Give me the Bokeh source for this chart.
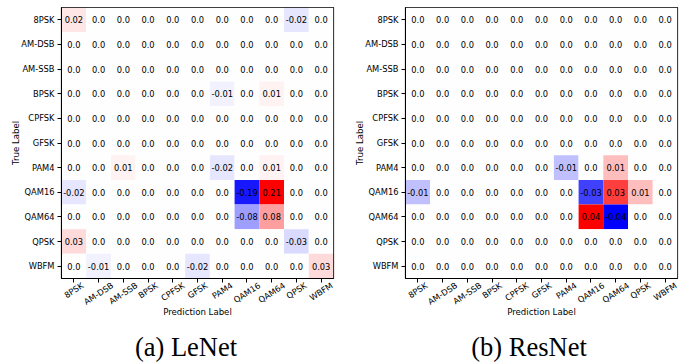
import math
from bokeh.plotting import figure
from bokeh.models import (ColumnDataSource, LinearColorMapper, Range1d, Div,
                          FixedTicker, LinearAxis, CustomJSTickFormatter)
from bokeh.layouts import row, column
from bokeh.transform import transform
from bokeh.core.properties import value
from bokeh.embed import file_html
from bokeh.resources import INLINE

labels = ["8PSK", "AM-DSB", "AM-SSB", "BPSK", "CPFSK", "GFSK", "PAM4",
          "QAM16", "QAM64", "QPSK", "WBFM"]

lenet = [
    [0.02, 0, 0, 0, 0, 0, 0, 0, 0, -0.02, 0],
    [0, 0, 0, 0, 0, 0, 0, 0, 0, 0, 0],
    [0, 0, 0, 0, 0, 0, 0, 0, 0, 0, 0],
    [0, 0, 0, 0, 0, 0, -0.01, 0, 0.01, 0, 0],
    [0, 0, 0, 0, 0, 0, 0, 0, 0, 0, 0],
    [0, 0, 0, 0, 0, 0, 0, 0, 0, 0, 0],
    [0, 0, 0.01, 0, 0, 0, -0.02, 0, 0.01, 0, 0],
    [-0.02, 0, 0, 0, 0, 0, 0, -0.19, 0.21, 0, 0],
    [0, 0, 0, 0, 0, 0, 0, -0.08, 0.08, 0, 0],
    [0.03, 0, 0, 0, 0, 0, 0, 0, 0, -0.03, 0],
    [0, -0.01, 0, 0, 0, -0.02, 0, 0, 0, 0, 0.03],
]

resnet = [
    [0, 0, 0, 0, 0, 0, 0, 0, 0, 0, 0],
    [0, 0, 0, 0, 0, 0, 0, 0, 0, 0, 0],
    [0, 0, 0, 0, 0, 0, 0, 0, 0, 0, 0],
    [0, 0, 0, 0, 0, 0, 0, 0, 0, 0, 0],
    [0, 0, 0, 0, 0, 0, 0, 0, 0, 0, 0],
    [0, 0, 0, 0, 0, 0, 0, 0, 0, 0, 0],
    [0, 0, 0, 0, 0, 0, -0.01, 0, 0.01, 0, 0],
    [-0.01, 0, 0, 0, 0, 0, 0, -0.03, 0.03, 0.01, 0],
    [0, 0, 0, 0, 0, 0, 0, 0.04, -0.04, 0, 0],
    [0, 0, 0, 0, 0, 0, 0, 0, 0, 0, 0],
    [0, 0, 0, 0, 0, 0, 0, 0, 0, 0, 0],
]

captions = ["(a) LeNet", "(b) ResNet"]

# matplotlib "bwr" colormap: blue -> white -> red
def bwr_palette(n=256):
    pal = []
    for i in range(n):
        t = i / (n - 1)
        if t <= 0.5:
            s = t * 2
            r, g, b = s, s, 1.0
        else:
            s = (1 - t) * 2
            r, g, b = 1.0, s, s
        pal.append("#%02x%02x%02x" % (round(r * 255), round(g * 255), round(b * 255)))
    return pal

PAL = bwr_palette()
SMALL_PX = 8.3
SMALL = "%.1fpx" % SMALL_PX
ANGLE = math.radians(33)
FRAME_W = 272
PANEL_W = 343
PLOT_H = 334
CAP_H = 362 - PLOT_H

# approximate DejaVu Sans advance widths (em units), used to centre rotated tick labels
_W = {'A': .684, 'B': .686, 'C': .698, 'D': .770, 'F': .575, 'G': .775, 'K': .656,
      'M': .863, 'P': .603, 'Q': .787, 'S': .635, 'W': .989, '-': .361}


def text_width(s):
    return sum(_W.get(ch, .636) for ch in s) * SMALL_PX


def make_panel(mat, left_border):
    n = len(labels)
    xs, ys, vals, txt = [], [], [], []
    for i, t in enumerate(labels):
        for j, pr in enumerate(labels):
            v = mat[i][j] + 0.0
            xs.append(j + 0.5)
            ys.append(t)
            vals.append(v)
            txt.append(str(round(v, 2)))
    src = ColumnDataSource(dict(x=xs, y=ys, v=vals, t=txt))
    vmax = max(abs(v) for v in vals)
    mapper = LinearColorMapper(palette=PAL, low=-vmax, high=vmax)

    p = figure(width=PANEL_W, height=PLOT_H, x_range=Range1d(0, n),
               y_range=list(reversed(labels)),
               output_backend="svg", toolbar_location=None,
               min_border_left=left_border, min_border_right=PANEL_W - left_border - FRAME_W,
               min_border_top=7, min_border_bottom=PLOT_H - 278)
    p.rect(x="x", y="y", width=1, height=1, source=src,
           fill_color=transform("v", mapper), line_color=None)
    p.text(x="x", y="y", text="t", source=src, text_align="center",
           text_baseline="middle", text_font_size=SMALL, text_color="black",
           text_font=value("DejaVu Sans"))

    p.grid.visible = False
    p.outline_line_color = "black"
    p.outline_line_width = 1.2
    p.background_fill_color = "white"
    p.border_fill_color = "white"

    centers = [k + 0.5 for k in range(n)]
    cell_px = FRAME_W / n
    shifted = [round(c + 0.5 * text_width(lab) * math.cos(ANGLE) / cell_px, 4)
               for c, lab in zip(centers, labels)]

    # tick marks only
    xa = p.xaxis[0]
    xa.ticker = FixedTicker(ticks=centers)
    xa.formatter = CustomJSTickFormatter(code="return ''")
    xa.major_label_text_font_size = "0px"
    xa.major_label_standoff = 0
    xa.major_tick_in = 0
    xa.major_tick_out = 4
    xa.major_tick_line_color = "black"
    xa.minor_tick_line_color = None
    xa.axis_line_color = "black"

    # labels, centred under ticks like matplotlib
    xb = LinearAxis(ticker=FixedTicker(ticks=shifted),
                    formatter=CustomJSTickFormatter(
                        args=dict(labs=labels, pos=shifted),
                        code="let k=0,b=1e9;for(let i=0;i<pos.length;i++){const d=Math.abs(pos[i]-tick);if(d<b){b=d;k=i}}return labs[k];"),
                    major_tick_in=0, major_tick_out=0, minor_tick_line_color=None,
                    axis_line_color=None, major_label_standoff=2,
                    major_label_orientation=ANGLE,
                    major_label_text_font="DejaVu Sans", major_label_text_font_size=SMALL,
                    major_label_text_color="black",
                    axis_label="Prediction Label", axis_label_standoff=-7,
                    axis_label_text_font="DejaVu Sans", axis_label_text_font_size="8.6px",
                    axis_label_text_font_style="normal", axis_label_text_color="black")
    p.add_layout(xb, "below")

    ya = p.yaxis[0]
    ya.axis_line_color = "black"
    ya.major_tick_in = 0
    ya.major_tick_out = 4
    ya.major_tick_line_color = "black"
    ya.major_label_text_font = "DejaVu Sans"
    ya.major_label_text_font_size = SMALL
    ya.major_label_text_color = "black"
    ya.major_label_standoff = 3
    ya.axis_label = "True Label"
    ya.axis_label_standoff = -3
    ya.axis_label_text_font = "DejaVu Sans"
    ya.axis_label_text_font_size = "8.6px"
    ya.axis_label_text_font_style = "normal"
    ya.axis_label_text_color = "black"
    return p


def make_caption(text):
    return Div(text=text, width=PANEL_W, height=CAP_H,
               styles={"font-family": "'Liberation Serif', serif", "font-size": "26.5px",
                       "line-height": "1", "text-align": "center", "color": "black",
                       "padding-left": "29px", "box-sizing": "border-box",
                       "margin": "0", "background": "white", "overflow": "visible"})


p1 = make_panel(lenet, 61)
p2 = make_panel(resnet, 62)
layout = column(row(p1, p2), row(make_caption(captions[0]), make_caption(captions[1])))

open("out.html", "w").write(file_html(layout, INLINE))
